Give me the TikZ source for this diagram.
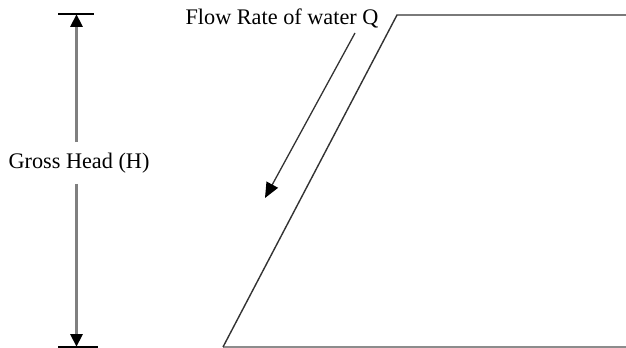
\documentclass[tikz,border=0pt]{standalone}
\usepackage{fontspec}
\setmainfont{Liberation Serif}
\usetikzlibrary{arrows.meta, positioning}

\begin{document}
\begin{tikzpicture}[
    x=0.03cm, y=-0.03cm, % pixel-like grid, y pointing down
    headtip/.style={-{Triangle[length=11pt, width=10pt, color=black]}},
    headline/.style={draw=black!50, line width=2.6pt},
    tickline/.style={draw=black, line width=1.4pt},
    slopeline/.style={draw=black!80, line width=1.2pt},
    groundline/.style={draw=black!45, line width=1.1pt},
    flowarrow/.style={draw=black!80, line width=1.1pt, -{Triangle[length=13pt, width=11pt, color=black]}},
    lbl/.style={font=\fontsize{19}{20}\selectfont, inner sep=1pt}
]
    \useasboundingbox (0,0) rectangle (626,348);

    % Tick marks of the head
    \coordinate (tickTL) at (58,14);
    \coordinate (tickTR) at (94,14);
    \coordinate (tickBL) at (58,347);
    \coordinate (tickBR) at (98,347);
    \coordinate (headTop) at (76.5,14);
    \coordinate (headBot) at (76.5,347);

    % Outline of the slope
    \coordinate (slopeBot) at (223,347);
    \coordinate (slopeTop) at (397,15);
    \coordinate (topEnd) at (626,15);
    \coordinate (botEnd) at (626,347);

    % Labels
    \node (gross) [lbl, inner ysep=9pt] at (79,163) {Gross Head (H)};
    \node (flow) [lbl] at (282,18) {Flow Rate of water Q};
    \coordinate (flowTail) at (355,33);
    \coordinate (flowTip) at (265,198);

    % Draw ticks
    \draw [tickline] (tickTL) -- (tickTR);
    \draw [tickline] (tickBL) -- (tickBR);

    % Draw Gross Head dimension
    \draw [headline, headtip] (headTop |- gross.north) -- (headTop);
    \draw [headline, headtip] (headBot |- gross.south) -- (headBot);

    % Draw slope and ground
    \draw [groundline] (slopeBot) -- (botEnd);
    \draw [slopeline] (slopeBot) -- (slopeTop) -- (topEnd);

    % Draw flow direction
    \draw [flowarrow] (flowTail) -- (flowTip);

\end{tikzpicture}
\end{document}
